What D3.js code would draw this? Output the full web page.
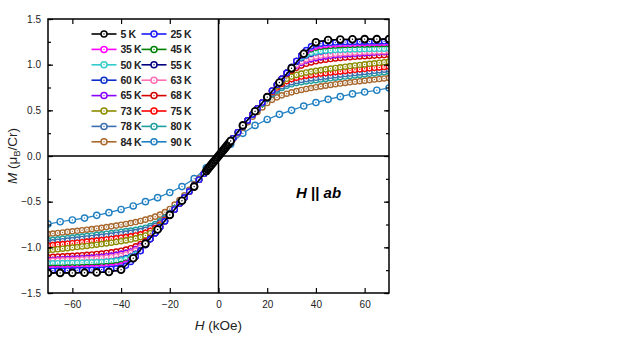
<!DOCTYPE html>
<html><head><meta charset="utf-8">
<script src="https://cdn.jsdelivr.net/npm/d3@7"></script>
<style>body{margin:0;background:#fff}svg{display:block}text{font-family:"Liberation Sans",Arial,sans-serif}</style>
</head><body><svg id="c" width="623" height="350"></svg>
<script>
// ---- data (positive field half; curves are antisymmetric M(-H) = -M(H)) ----
const temps = ["5 K","25 K","35 K","45 K","50 K","55 K","60 K","63 K","65 K","68 K","73 K","75 K","78 K","80 K","84 K","90 K"];
const colors = ["#000000","#1a1aff","#ff00ff","#008000","#33cccc","#000080","#0a2ec8","#ff6eb4","#8a00ff","#d40000","#8c8c00","#ff0000","#3d6fb0","#1f9e9e","#a8682e","#1f7fc0"];
const fieldCoarse = [0,5,10,15,20,25,30,35,40,45,50,55,60,65,70];
const fieldFine5K = [0.5,1,1.5,2,2.5,3,3.5,4,4.5];
const fieldDense = [0,2,4,6,8,10,12,14,16,18,20,22,24,26,28,30,32,34,36,38,40,42,44,46,48,50,52,54,56,58,60,62,64,66,68,70];
const m5K = [0,.165,.335,.49,.645,.805,.96,1.12,1.245,1.27,1.275,1.278,1.28,1.28,1.28];
const m5Kfine = [.016,.033,.049,.065,.081,.098,.114,.13,.146];
const m90K = [0,.13,.248,.335,.40,.456,.50,.547,.585,.62,.65,.68,.70,.72,.745];
const m25K = [0,.065,.13,.195,.26,.325,.39,.455,.52,.585,.65,.715,.78,.845,.91,.975,1.04,1.10,1.16,1.20,1.22,1.23,1.236,1.24,1.243,1.245,1.247,1.249,1.25,1.251,1.252,1.253,1.254,1.255,1.256,1.257];
const m35K = [0,.065,.13,.195,.26,.325,.39,.455,.52,.585,.65,.715,.78,.845,.91,.975,1.04,1.10,1.145,1.18,1.20,1.21,1.216,1.22,1.223,1.226,1.228,1.23,1.232,1.234,1.235,1.236,1.237,1.238,1.239,1.24];
const m45K = [0,.065,.13,.195,.26,.325,.39,.455,.52,.585,.65,.715,.78,.845,.91,.975,1.04,1.10,1.14,1.17,1.187,1.197,1.203,1.207,1.21,1.213,1.215,1.217,1.219,1.22,1.221,1.222,1.223,1.224,1.225,1.226];
const m50K = [0,.065,.13,.195,.26,.325,.39,.455,.52,.585,.65,.715,.78,.845,.91,.975,1.04,1.08,1.11,1.13,1.142,1.149,1.154,1.158,1.161,1.163,1.165,1.167,1.169,1.17,1.171,1.172,1.173,1.174,1.175,1.176];
const m55K = [0,.065,.13,.195,.26,.325,.39,.455,.52,.585,.65,.715,.78,.845,.91,.975,1.04,1.09,1.125,1.148,1.162,1.171,1.177,1.181,1.184,1.187,1.189,1.191,1.193,1.195,1.196,1.197,1.198,1.199,1.2,1.201];
const m60K = [0,.065,.13,.195,.26,.325,.39,.455,.52,.585,.65,.715,.78,.845,.91,.975,1.03,1.07,1.10,1.12,1.135,1.145,1.152,1.158,1.163,1.167,1.17,1.173,1.176,1.179,1.181,1.183,1.185,1.187,1.189,1.19];
const m63K = [0,.065,.13,.195,.26,.325,.39,.455,.52,.585,.65,.715,.78,.845,.91,.96,1.0,1.035,1.06,1.078,1.09,1.1,1.108,1.114,1.119,1.123,1.127,1.13,1.133,1.136,1.139,1.141,1.143,1.145,1.147,1.149];
const m65K = [0,.065,.13,.195,.26,.325,.39,.455,.52,.585,.65,.715,.78,.845,.91,.955,.99,1.02,1.045,1.06,1.072,1.082,1.09,1.097,1.103,1.108,1.112,1.116,1.12,1.123,1.126,1.129,1.132,1.135,1.138,1.14];
const m68K = [0,.065,.13,.195,.26,.325,.39,.455,.52,.585,.65,.715,.78,.845,.895,.935,.965,.99,1.01,1.025,1.037,1.047,1.055,1.062,1.068,1.073,1.078,1.082,1.086,1.09,1.093,1.096,1.099,1.102,1.105,1.108];
const m73K = [0,.065,.13,.195,.26,.325,.39,.455,.52,.585,.645,.71,.765,.81,.845,.87,.888,.902,.914,.924,.933,.941,.949,.957,.964,.971,.978,.985,.991,.997,1.003,1.009,1.015,1.021,1.027,1.033];
const m75K = [0,.065,.13,.195,.26,.325,.39,.455,.52,.585,.64,.70,.75,.79,.82,.842,.858,.87,.88,.888,.895,.902,.908,.914,.92,.926,.932,.938,.944,.95,.955,.96,.965,.97,.975,.98];
const m78K = [0,.065,.13,.195,.26,.325,.39,.455,.52,.585,.63,.685,.73,.765,.79,.808,.822,.833,.842,.85,.857,.864,.871,.878,.885,.891,.897,.903,.909,.915,.921,.927,.933,.939,.945,.951];
const m80K = [0,.064,.128,.192,.256,.32,.384,.448,.51,.57,.625,.675,.715,.745,.768,.785,.798,.808,.816,.823,.83,.837,.844,.851,.858,.864,.87,.876,.882,.888,.894,.9,.906,.912,.918,.924];
const m84K = [0,.062,.124,.186,.248,.31,.37,.43,.482,.532,.58,.615,.642,.664,.682,.697,.711,.723,.734,.744,.753,.762,.77,.778,.786,.793,.8,.807,.813,.819,.825,.831,.837,.843,.849,.855];
const xTicks = [-60,-40,-20,0,20,40,60];
const yTicks = [-1.5,-1.0,-0.5,0.0,0.5,1.0,1.5];
const yMinorTicks = [-1.5,-1.25,-1,-0.75,-0.5,-0.25,0,0.25,0.5,0.75,1,1.25,1.5];

// ---- build series ----
function mirror(H, M){
  const pts = [];
  for (let i=H.length-1;i>=0;i--) if (H[i]!==0) pts.push([-H[i], -M[i]]);
  for (let i=0;i<H.length;i++) pts.push([H[i], M[i]]);
  return pts;
}
const denseVals = [m25K,m35K,m45K,m50K,m55K,m60K,m63K,m65K,m68K,m73K,m75K,m78K,m80K,m84K];
const series = temps.map((t,i)=>{
  let pts;
  if (i===0) {
    const H = fieldCoarse.concat(fieldFine5K), M = m5K.concat(m5Kfine);
    const idx = H.map((h,k)=>k).sort((a,b)=>H[a]-H[b]);
    pts = mirror(idx.map(k=>H[k]), idx.map(k=>M[k]));
  } else if (i===15) pts = mirror(fieldCoarse, m90K);
  else pts = mirror(fieldDense, denseVals[i-1]);
  return {t, color: colors[i], pts, big: (i===0), coarse: (i===0||i===15)};
});

// ---- chart ----
const svg = d3.select("#c");
const L=48, R=389, T=19, B=293;
const x = d3.scaleLinear().domain([-70,70]).range([L,R]);
const y = d3.scaleLinear().domain([-1.5,1.5]).range([B,T]);

const plot = svg.append("g");
svg.append("defs").append("clipPath").attr("id","clip").append("rect").attr("x",L).attr("y",T).attr("width",R-L).attr("height",B-T);
const dataG = plot.append("g").attr("clip-path","url(#clip)");

// zero lines
plot.append("line").attr("x1",x(0)).attr("x2",x(0)).attr("y1",T).attr("y2",B).attr("stroke","#000").attr("stroke-width",1.5);
plot.append("line").attr("x1",L).attr("x2",R).attr("y1",y(0)).attr("y2",y(0)).attr("stroke","#000").attr("stroke-width",1.5);

const line = d3.line().x(d=>x(d[0])).y(d=>y(d[1]));
series.slice().reverse().forEach(s=>{
  const g = dataG.append("g");
  g.append("path").attr("d", line(s.pts)).attr("fill","none").attr("stroke",s.color).attr("stroke-width", s.big?1.6:1.2);
  const r = s.big?3.4:(s.coarse?3.1:2.6);
  g.selectAll("circle.m").data(s.pts).join("circle").attr("class","m")
    .attr("cx",d=>x(d[0])).attr("cy",d=>y(d[1])).attr("r",r)
    .attr("fill","#fff").attr("stroke",s.color).attr("stroke-width", s.big?1.9:1.4);
  g.selectAll("circle.d").data(s.pts).join("circle").attr("class","d")
    .attr("cx",d=>x(d[0])).attr("cy",d=>y(d[1])).attr("r",0.7).attr("fill",s.color);
});

// axes
const fmtY = d3.format(".1f");
const axG = svg.append("g").attr("font-size",11);
const axBottom = axG.append("g").attr("transform",`translate(0,${B})`)
  .call(d3.axisBottom(x).tickValues(xTicks).tickSizeInner(-5).tickSizeOuter(0).tickPadding(8).tickFormat(d3.format("d")));
const axTop = axG.append("g").attr("transform",`translate(0,${T})`)
  .call(d3.axisTop(x).tickValues(xTicks).tickSizeInner(-5).tickSizeOuter(0).tickFormat(""));
const axLeft = axG.append("g").attr("transform",`translate(${L},0)`)
  .call(d3.axisLeft(y).tickValues(yTicks).tickSizeInner(-5).tickSizeOuter(0).tickPadding(7).tickFormat(fmtY));
axG.append("g").attr("transform",`translate(${L},0)`)
  .call(d3.axisLeft(y).tickValues(yMinorTicks).tickSizeInner(-3).tickSizeOuter(0).tickFormat(""));
axG.append("g").attr("transform",`translate(${R},0)`)
  .call(d3.axisRight(y).tickValues(yMinorTicks).tickSizeInner(-3).tickSizeOuter(0).tickFormat(""));
axG.append("g").attr("transform",`translate(${R},0)`)
  .call(d3.axisRight(y).tickValues(yTicks).tickSizeInner(-5).tickSizeOuter(0).tickFormat(""));
axG.selectAll(".domain").remove();
axG.selectAll(".tick line").attr("stroke","#000").attr("stroke-width",1.2);
axG.selectAll(".tick text").attr("fill","#222").attr("font-family","'Liberation Sans',Arial,sans-serif");

// frame
svg.append("rect").attr("x",L).attr("y",T).attr("width",R-L).attr("height",B-T).attr("fill","none").attr("stroke","#000").attr("stroke-width",1.5);

// axis titles
const xt = svg.append("text").attr("x",(L+R)/2).attr("y",330).attr("text-anchor","middle").attr("font-size",13.5).attr("fill","#222");
xt.append("tspan").attr("font-style","italic").text("H");
xt.append("tspan").text(" (kOe)");
const yt = svg.append("text").attr("transform",`translate(17,${(T+B)/2}) rotate(-90)`).attr("text-anchor","middle").attr("font-size",13.5).attr("fill","#222");
yt.append("tspan").attr("font-style","italic").text("M");
yt.append("tspan").text(" (\u03bc");
yt.append("tspan").attr("font-size",9).attr("dy",3).text("B");
yt.append("tspan").attr("dy",-3).text("/Cr)");

// annotation
const an = svg.append("text").attr("x",296).attr("y",198).attr("font-size",15).attr("font-weight","bold").attr("fill","#000");
an.append("tspan").attr("font-style","italic").text("H");
an.append("tspan").text(" || ");
an.append("tspan").attr("font-style","italic").text("ab");

// legend
const leg = svg.append("g");
const rowY = i => 34 + i*15.4;
series.forEach((s,i)=>{
  const col = i%2, row = Math.floor(i/2);
  const x0 = col===0 ? 91.5 : 141.5, cy = rowY(row);
  const g = leg.append("g");
  g.append("line").attr("x1",x0).attr("x2",x0+25).attr("y1",cy).attr("y2",cy).attr("stroke",s.color).attr("stroke-width",1.6);
  g.append("circle").attr("cx",x0+12.5).attr("cy",cy).attr("r",3).attr("fill","#fff").attr("stroke",s.color).attr("stroke-width",1.5);
  g.append("circle").attr("cx",x0+12.5).attr("cy",cy).attr("r",0.7).attr("fill",s.color);
  g.append("text").attr("x",x0+29).attr("y",cy+3.8).attr("font-size",10.5).attr("letter-spacing",-0.4).attr("font-weight","bold").attr("fill","#222").text(s.t);
});
</script></body></html>
